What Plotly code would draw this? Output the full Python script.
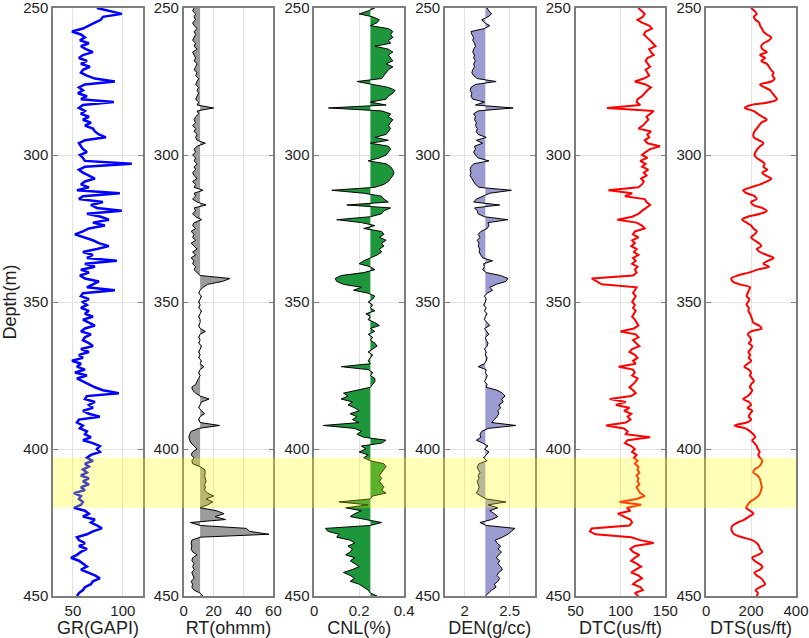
import numpy as np
import plotly.graph_objects as go
from plotly.subplots import make_subplots

# log samples every 1 m from 250 m to 450 m
depth = np.arange(250, 451)

gr = [
	74, 88, 99, 80, 78, 72, 66, 60, 49, 58,
	62, 57, 66, 58, 63, 70, 60, 56, 64, 58,
	67, 60, 58, 64, 72, 92, 62, 56, 60, 55,
	64, 58, 91, 60, 56, 62, 58, 66, 60, 68,
	62, 70, 72, 76, 83, 62, 56, 58, 60, 64,
	57, 60, 62, 109, 62, 56, 60, 66, 72, 62,
	58, 66, 54, 97, 60, 56, 80, 68, 74, 99,
	64, 78, 86, 70, 82, 66, 60, 52, 62, 70,
	76, 86, 74, 60, 70, 64, 94, 62, 72, 58,
	66, 57, 62, 76, 70, 64, 92, 60, 58, 66,
	60, 64, 58, 66, 62, 70, 60, 66, 72, 62,
	58, 68, 62, 60, 66, 70, 58, 66, 56, 60,
	49, 58, 54, 62, 52, 64, 54, 60, 66, 72,
	80, 96, 64, 62, 72, 66, 70, 60, 66, 77,
	56, 54, 60, 57, 64, 62, 68, 60, 70, 77,
	74, 77, 68, 64, 70, 62, 66, 60, 64, 58,
	66, 60, 66, 58, 62, 51, 58, 56, 60, 58,
	51, 62, 66, 60, 72, 68, 74, 79, 70, 64,
	54, 56, 62, 56, 64, 58, 54, 48, 56, 60,
	64, 58, 66, 72, 77, 70, 68, 62, 60, 56,
	54,
]

rt = [
	7, 6, 8, 7, 8, 6, 7, 9, 7, 8,
	7, 6, 8, 7, 9, 6, 7, 8, 7, 9,
	8, 7, 9, 8, 10, 9, 8, 10, 9, 10,
	9, 8, 10, 9, 20, 9, 10, 8, 7, 8,
	6, 8, 7, 9, 8, 9, 14.5, 9, 7, 8,
	6, 8, 7, 9, 7, 8, 6, 7, 9, 6,
	8, 7, 13, 7, 8, 6, 9, 15, 7, 8,
	6, 8, 12, 7, 6, 8, 5, 7, 6, 8,
	5, 7, 9, 6, 8, 5, 7, 6, 8, 7,
	9, 11, 31, 26, 16, 13, 11, 10, 12, 11,
	10, 11, 10, 12, 11, 10, 11, 11, 10, 11,
	14.5, 11, 10, 11, 10, 12, 11, 10, 11, 10,
	12, 11, 13.5, 11, 10, 11, 10, 9, 8, 5.5,
	6, 8, 11, 17, 12, 11, 10, 12, 14, 11,
	10, 11, 24, 10, 5, 4, 3.5, 4, 5, 7,
	9, 6, 5, 7, 5.5, 6, 11, 14, 14.5, 14,
	14.5, 15, 14, 14.5, 14, 16, 20, 15, 19.5, 16,
	11, 22, 27, 21, 28, 4.5, 11, 42, 44, 57,
	11, 5.5, 5, 5.5, 5, 6, 9, 6, 5.5, 7,
	6, 7, 5.5, 6, 7, 5, 6, 5.5, 7, 11,
	13,
]

cnl = [
	0.27, 0.24, 0.20, 0.26, 0.29, 0.28, 0.25, 0.33, 0.35, 0.34,
	0.35, 0.33, 0.34, 0.27, 0.33, 0.35, 0.33, 0.34, 0.35, 0.32,
	0.35, 0.33, 0.32, 0.31, 0.30, 0.19, 0.27, 0.33, 0.36, 0.35,
	0.33, 0.32, 0.25, 0.32, 0.063, 0.30, 0.34, 0.33, 0.35, 0.34,
	0.33, 0.34, 0.33, 0.32, 0.27, 0.33, 0.25, 0.33, 0.34, 0.33,
	0.32, 0.29, 0.24, 0.32, 0.34, 0.35, 0.355, 0.35, 0.34, 0.33,
	0.31, 0.27, 0.078, 0.22, 0.30, 0.31, 0.33, 0.145, 0.34, 0.31,
	0.30, 0.25, 0.10, 0.21, 0.27, 0.22, 0.30, 0.31, 0.29, 0.32,
	0.30, 0.31, 0.29, 0.30, 0.28, 0.25, 0.22, 0.20, 0.25, 0.27,
	0.22, 0.12, 0.093, 0.10, 0.13, 0.21, 0.175, 0.24, 0.27, 0.26,
	0.24, 0.26, 0.25, 0.27, 0.23, 0.25, 0.24, 0.27, 0.29, 0.25,
	0.27, 0.24, 0.26, 0.25, 0.27, 0.28, 0.26, 0.24, 0.26, 0.25,
	0.24, 0.25, 0.12, 0.24, 0.26, 0.25, 0.27, 0.27, 0.26, 0.25,
	0.19, 0.13, 0.15, 0.12, 0.17, 0.15, 0.18, 0.20, 0.16, 0.19,
	0.17, 0.20, 0.04, 0.18, 0.21, 0.19, 0.22, 0.32, 0.30, 0.21,
	0.23, 0.20, 0.24, 0.22, 0.25, 0.31, 0.32, 0.31, 0.30, 0.29,
	0.30, 0.29, 0.30, 0.31, 0.30, 0.32, 0.26, 0.25, 0.11, 0.24,
	0.14, 0.21, 0.18, 0.16, 0.23, 0.30, 0.25, 0.05, 0.06, 0.11,
	0.10, 0.16, 0.18, 0.15, 0.17, 0.16, 0.14, 0.18, 0.16, 0.18,
	0.20, 0.17, 0.13, 0.16, 0.18, 0.16, 0.20, 0.22, 0.24, 0.25,
	0.28,
]

den = [
	2.25, 2.27, 2.30, 2.26, 2.19, 2.22, 2.28, 2.22, 2.07, 2.08,
	2.10, 2.09, 2.11, 2.12, 2.10, 2.09, 2.11, 2.10, 2.12, 2.10,
	2.11, 2.09, 2.08, 2.10, 2.14, 2.35, 2.12, 2.07, 2.06, 2.08,
	2.07, 2.09, 2.22, 2.12, 2.54, 2.15, 2.10, 2.12, 2.11, 2.13,
	2.12, 2.14, 2.13, 2.15, 2.24, 2.13, 2.20, 2.11, 2.12, 2.10,
	2.12, 2.15, 2.27, 2.10, 2.07, 2.06, 2.07, 2.06, 2.08, 2.10,
	2.12, 2.16, 2.52, 2.28, 2.21, 2.13, 2.10, 2.39, 2.11, 2.14,
	2.15, 2.22, 2.48, 2.26, 2.27, 2.25, 2.18, 2.15, 2.17, 2.14,
	2.16, 2.15, 2.17, 2.16, 2.18, 2.20, 2.31, 2.21, 2.22, 2.20,
	2.24, 2.40, 2.48, 2.46, 2.35, 2.28, 2.31, 2.25, 2.22, 2.24,
	2.23, 2.21, 2.24, 2.22, 2.25, 2.23, 2.22, 2.25, 2.28, 2.22,
	2.25, 2.27, 2.23, 2.24, 2.26, 2.25, 2.22, 2.24, 2.23, 2.25,
	2.24, 2.22, 2.15, 2.24, 2.23, 2.25, 2.24, 2.22, 2.25, 2.24,
	2.36, 2.42, 2.45, 2.41, 2.43, 2.38, 2.40, 2.37, 2.38, 2.36,
	2.33, 2.30, 2.57, 2.26, 2.19, 2.17, 2.18, 2.13, 2.20, 2.26,
	2.22, 2.27, 2.24, 2.21, 2.25, 2.16, 2.14, 2.15, 2.17, 2.15,
	2.16, 2.14, 2.15, 2.16, 2.15, 2.13, 2.18, 2.24, 2.46, 2.26,
	2.37, 2.28, 2.33, 2.37, 2.30, 2.17, 2.24, 2.56, 2.52, 2.48,
	2.42, 2.34, 2.36, 2.40, 2.37, 2.41, 2.38, 2.35, 2.39, 2.37,
	2.40, 2.42, 2.38, 2.36, 2.39, 2.37, 2.33, 2.35, 2.30, 2.26,
	2.23,
]

dtc = [
	120, 123, 127, 125, 119, 124, 132, 135, 128, 126,
	130, 133, 136, 139, 132, 134, 137, 130, 128, 131,
	133, 128, 130, 132, 126, 116, 128, 134, 130, 127,
	124, 119, 118, 122, 85, 137, 133, 129, 131, 128,
	125, 120, 134, 130, 132, 127, 130, 144, 133, 128,
	124, 130, 122, 128, 124, 131, 126, 129, 123, 126,
	124, 120, 86.5, 113, 105, 127, 129, 133, 128, 124,
	120, 113, 96.6, 118, 124, 127, 116, 114, 120, 113,
	116, 112, 118, 115, 120, 114, 117, 113, 119, 116,
	118, 114, 68, 74, 79, 118, 116, 114, 117, 115,
	113, 116, 114, 117, 115, 113, 116, 118, 120, 115,
	100, 117, 120, 114, 118, 121, 113, 110, 116, 119,
	114, 117, 98, 114, 116, 113, 119, 117, 114, 110,
	114, 117, 112, 88, 106, 95, 110, 104, 112, 108,
	111, 106, 84, 104, 108, 106, 133, 108, 105, 112,
	116, 113, 118, 115, 119, 116, 120, 119, 121, 118,
	120, 119, 121, 118, 120, 122, 127, 118, 99, 123,
	107, 111, 97, 104, 111, 113, 110, 68, 66, 72,
	112, 122, 137, 116, 111, 114, 121, 116, 112, 118,
	123, 117, 112, 120, 124, 118, 114, 122, 125, 116,
	120,
]

dts = [
	200, 215, 225, 212, 220, 236, 240, 248, 255, 270,
	290, 280, 255, 245, 250, 270, 240, 262, 245, 270,
	280, 288, 300, 295, 305, 290, 240, 260, 285, 295,
	305, 315, 285, 200, 172, 210, 230, 250, 270, 245,
	235, 225, 215, 210, 212, 235, 255, 240, 228, 220,
	215, 225, 245, 260, 255, 272, 250, 265, 290, 270,
	240, 200, 165, 180, 215, 225, 200, 210, 250, 270,
	240, 185, 160, 180, 200, 210, 225, 215, 200, 215,
	235, 245, 225, 240, 270, 300, 275, 255, 280, 230,
	190, 140, 112, 118, 150, 195, 190, 185, 180, 192,
	186, 180, 190, 188, 195, 200, 205, 210, 235, 247,
	200, 185, 195, 200, 190, 205, 198, 188, 195, 190,
	200, 185, 170, 190, 200, 195, 205, 212, 200, 195,
	205, 198, 185, 165, 190, 200, 185, 205, 195, 190,
	200, 180, 127, 175, 195, 210, 218, 205, 215, 225,
	230, 238, 232, 240, 250, 245, 235, 215, 210, 228,
	238, 242, 245, 248, 244, 240, 232, 215, 195, 185,
	178, 195, 210, 190, 170, 140, 118, 112, 115, 125,
	160, 205, 225, 235, 240, 250, 230, 205, 215, 235,
	250, 240, 215, 225, 245, 255, 262, 240, 220, 230,
	225,
]

track_titles = ['GR(GAPI)', 'RT(ohmm)', 'CNL(%)', 'DEN(g/cc)', 'DTC(us/ft)', 'DTS(us/ft)']
track_ranges = [[30, 120], [0, 60], [0, 0.4], [1.78, 2.78], [50, 150], [0, 400]]
track_ticks = [[50, 100], [0, 20, 40, 60], [0, 0.2, 0.4], [2, 2.5], [50, 100, 150], [0, 200, 400]]
depth_ticks = [250, 300, 350, 400, 450]

# shading cut-offs and the highlighted interval
rt_cut = 11
cnl_cut = 0.25
den_cut = 2.23
zone_top = 403
zone_base = 420

FONT = 'Arial, Liberation Sans, sans-serif'

def frame_grey():
	return 'rgb(125,125,125)'

def grid_grey():
	return 'rgb(225,225,225)'

def add_curve(fig, col, values, color, width, shape='linear'):
	fig.add_trace(go.Scatter(x=values, y=depth, mode='lines',
		line=dict(color=color, width=width, shape=shape), showlegend=False), 1, col)

def add_filled_curve(fig, col, values, cut, fillcolor):
	# invisible cut-off line, the curve then fills back to it
	fig.add_trace(go.Scatter(x=[cut, cut], y=[depth[0], depth[-1]], mode='lines',
		line=dict(width=0), showlegend=False, hoverinfo='skip'), 1, col)
	fig.add_trace(go.Scatter(x=values, y=depth, mode='lines', fill='tonextx',
		fillcolor=fillcolor, line=dict(color='black', width=1), showlegend=False), 1, col)

fig = make_subplots(1, 6, horizontal_spacing=0.055)

add_curve(fig, 1, gr, 'rgb(0,0,255)', 2.5)
add_filled_curve(fig, 2, rt, rt_cut, 'rgb(155,155,155)')
add_filled_curve(fig, 3, cnl, cnl_cut, 'rgb(30,150,60)')
add_filled_curve(fig, 4, den, den_cut, 'rgb(155,155,210)')
add_curve(fig, 5, dtc, 'rgb(255,0,0)', 2)
add_curve(fig, 6, dts, 'rgb(255,0,0)', 2, 'spline')

for i in range(6):
	fig.update_xaxes(
		range=track_ranges[i], tickvals=track_ticks[i],
		title=dict(text=track_titles[i], font=dict(size=18), standoff=4),
		showgrid=True, gridcolor=grid_grey(), zeroline=False,
		showline=True, linecolor=frame_grey(), linewidth=1.5, mirror=True,
		ticks='', automargin=False, ticklabeloverflow='allow',
		row=1, col=i + 1)

fig.update_yaxes(
	range=[450, 250], tickvals=depth_ticks,
	showgrid=True, gridcolor=grid_grey(), zeroline=False,
	showline=True, linecolor=frame_grey(), linewidth=1.5, mirror='ticks',
	ticks='inside', ticklen=5, tickcolor=frame_grey(), automargin=False,
	ticklabeloverflow='allow')
fig.update_yaxes(title=dict(text='Depth(m)', font=dict(size=18), standoff=2), row=1, col=1)

fig.add_shape(type='rect', xref='paper', yref='y', x0=0, x1=1, y0=zone_top, y1=zone_base,
	fillcolor='rgba(255,255,0,0.28)', line_width=0, layer='above')

fig.update_layout(
	width=809, height=638,
	margin=dict(l=53, r=13, t=8, b=42),
	paper_bgcolor='white', plot_bgcolor='white',
	font=dict(family=FONT, size=15, color='rgb(30,30,30)'),
	showlegend=False)

# drop the default page margin so the figure sits at the window's corner
fig.write_html('out.html', config={'displayModeBar': False},
	post_script="document.body.style.margin='0px';")
